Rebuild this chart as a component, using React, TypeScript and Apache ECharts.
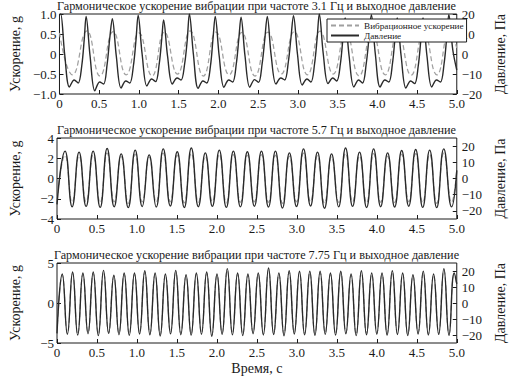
import React, { useEffect, useRef } from "react";
import * as echarts from "echarts";

const SERIF = "Liberation Serif";

const panelTitles = [
  "Гармоническое ускорение вибрации при частоте 3.1 Гц и выходное давление",
  "Гармоническое ускорение вибрации при частоте 5.7 Гц и выходное давление",
  "Гармоническое ускорение вибрации при частоте 7.75 Гц и выходное давление",
];
const accelName = "Вибрационное ускорение";
const pressureName = "Давление";
const leftAxisName = "Ускорение, g";
const rightAxisName = "Давление, Па";
const xAxisName = "Время, с";

const xTicks = [0, 0.5, 1, 1.5, 2, 2.5, 3, 3.5, 4, 4.5, 5];
const leftTicks1 = [-1, -0.5, 0, 0.5, 1];
const leftTicks2 = [-4, -2, 0, 2, 4];
const leftTicks3 = [-5, 0, 5];
const rightTicks = [-20, -10, 0, 10, 20];

// Panel 1 (3.1 Hz)
const accel1T = [0, 0.165, 0.345, 0.51, 0.675, 0.84, 1.0, 1.165, 1.32, 1.485, 1.645, 1.81, 1.97, 2.135, 2.295, 2.46, 2.625, 2.79, 2.955, 3.12, 3.28, 3.445, 3.605, 3.77, 3.935, 4.1, 4.26, 4.425, 4.585, 4.75, 4.91, 5.0];
const accel1V = [0.53, -0.52, 0.58, -0.55, 0.56, -0.52, 0.53, -0.55, 0.55, -0.5, 0.58, -0.55, 0.55, -0.52, 0.54, -0.55, 0.55, -0.5, 0.56, -0.52, 0.57, -0.5, 0.55, -0.55, 0.56, -0.52, 0.55, -0.53, 0.55, -0.52, 0.55, 0.15];
const pressure1T = [
  0,
  0.015, 0.065, 0.125, 0.185, 0.235, 0.28, 0.313,
  0.335, 0.385, 0.445, 0.505, 0.555, 0.6, 0.633,
  0.665, 0.715, 0.775, 0.835, 0.885, 0.93, 0.963,
  0.99, 1.04, 1.1, 1.16, 1.21, 1.255, 1.288,
  1.31, 1.36, 1.42, 1.48, 1.53, 1.575, 1.608,
  1.635, 1.685, 1.745, 1.805, 1.855, 1.9, 1.933,
  1.96, 2.01, 2.07, 2.13, 2.18, 2.225, 2.258,
  2.285, 2.335, 2.395, 2.455, 2.505, 2.55, 2.583,
  2.615, 2.665, 2.725, 2.785, 2.835, 2.88, 2.913,
  2.945, 2.995, 3.055, 3.115, 3.165, 3.21, 3.243,
  3.27, 3.32, 3.38, 3.44, 3.49, 3.535, 3.568,
  3.595, 3.645, 3.705, 3.765, 3.815, 3.86, 3.893,
  3.925, 3.975, 4.035, 4.095, 4.145, 4.19, 4.223,
  4.25, 4.3, 4.36, 4.42, 4.47, 4.515, 4.548,
  4.575, 4.625, 4.685, 4.745, 4.795, 4.84, 4.873,
  4.9, 4.95, 5.0,
];
const pressure1V = [
  19.5,
  20, 0, -16.5, -13, -14.5, -6, 8,
  18.8, -1, -18.4, -14, -15, -5, 8,
  17.6, -1, -17, -13.5, -14.5, -6, 7,
  19.4, 0, -16, -12.5, -13.8, -5, 8,
  17, -1, -15, -12, -13, -5, 7,
  20, 0, -17.2, -13.5, -14.5, -6, 8,
  18.8, -1, -16.6, -13, -14, -5, 8,
  18.4, -1, -16.6, -12.8, -14.2, -5, 7,
  18.8, -1, -15, -12, -13, -4, 8,
  19.2, 0, -15.5, -12.5, -14, -5, 8,
  20, 0, -14.8, -12, -13.5, -5, 8,
  18, -1, -16.5, -13, -14.5, -5, 7,
  19.7, 0, -16.5, -13, -14, -5, 8,
  18, -1, -17, -13.5, -14.8, -6, 7,
  18, -1, -16.5, -13, -14, -5, 8,
  19.7, 2, -8,
];

// Panel 2 (5.7 Hz)
const times2 = [0, 0.101, 0.189, 0.276, 0.364, 0.452, 0.54, 0.627, 0.715, 0.803, 0.891, 0.978, 1.066, 1.153, 1.241, 1.329, 1.417, 1.504, 1.592, 1.68, 1.768, 1.855, 1.943, 2.03, 2.118, 2.206, 2.294, 2.381, 2.469, 2.557, 2.645, 2.732, 2.82, 2.907, 2.995, 3.083, 3.171, 3.258, 3.346, 3.434, 3.522, 3.609, 3.697, 3.784, 3.872, 3.96, 4.048, 4.135, 4.223, 4.311, 4.399, 4.486, 4.574, 4.661, 4.749, 4.837, 4.935, 5.0];
const pressure2V = [-16, 16.9, -17.5, 16.3, -17.2, 16.9, -17.8, 18.5, -17.4, 15.2, -18.0, 17.5, -17.3, 14.6, -17.6, 18.3, -17.0, 16.5, -17.9, 18.8, -17.4, 15.8, -17.2, 17.5, -17.8, 16.9, -17.5, 16.5, -17.1, 16.9, -17.6, 16.9, -18.2, 15.8, -17.3, 18.3, -17.0, 16.3, -18.4, 15.2, -17.5, 18.8, -17.2, 16.3, -17.9, 18.3, -17.4, 15.8, -17.6, 17.3, -17.1, 17.9, -17.8, 17.5, -18.0, 18.3, -17.5, 5];
const accel2V = [-2.2, 2.3, -2.35, 2.25, -2.3, 2.35, -2.4, 2.5, -2.3, 2.15, -2.45, 2.4, -2.3, 2.1, -2.35, 2.5, -2.3, 2.3, -2.4, 2.5, -2.35, 2.2, -2.3, 2.4, -2.4, 2.35, -2.35, 2.3, -2.3, 2.35, -2.35, 2.3, -2.45, 2.2, -2.3, 2.5, -2.3, 2.25, -2.45, 2.15, -2.35, 2.5, -2.3, 2.25, -2.4, 2.45, -2.35, 2.2, -2.35, 2.4, -2.3, 2.45, -2.4, 2.4, -2.45, 2.5, -2.35, 0.8];

// Panel 3 (7.75 Hz)
const times3 = [0, 0.066, 0.130, 0.195, 0.259, 0.324, 0.388, 0.453, 0.517, 0.582, 0.646, 0.711, 0.775, 0.840, 0.904, 0.969, 1.033, 1.098, 1.162, 1.227, 1.291, 1.356, 1.420, 1.485, 1.549, 1.614, 1.678, 1.743, 1.807, 1.872, 1.936, 2.001, 2.065, 2.130, 2.194, 2.259, 2.323, 2.388, 2.452, 2.517, 2.581, 2.646, 2.710, 2.775, 2.839, 2.904, 2.968, 3.033, 3.097, 3.162, 3.226, 3.291, 3.355, 3.420, 3.484, 3.549, 3.613, 3.678, 3.742, 3.807, 3.871, 3.936, 4.000, 4.065, 4.129, 4.194, 4.258, 4.323, 4.387, 4.452, 4.516, 4.581, 4.645, 4.710, 4.774, 4.839, 4.903, 4.968, 5.0];
const pressure3V = [-19, 18.1, -19.5, 19.4, -20.0, 18.75, -19.2, 19.4, -20.4, 20.4, -19.0, 17.3, -19.8, 18.75, -20.2, 18.75, -19.4, 20.2, -19.9, 18.75, -20.6, 18.1, -19.3, 20.4, -19.8, 17.7, -20.1, 18.75, -19.5, 19.4, -20.8, 18.1, -19.6, 21.5, -19.9, 18.75, -20.3, 18.1, -19.2, 18.75, -20.0, 21.9, -19.7, 18.75, -20.5, 20.2, -19.4, 19.8, -19.9, 19.8, -20.2, 19.8, -19.6, 18.75, -20.0, 19.8, -19.3, 18.1, -20.4, 20.2, -19.8, 18.75, -19.5, 18.75, -20.1, 20.2, -19.7, 18.75, -20.3, 17.7, -19.4, 19.8, -20.0, 18.1, -19.6, 21.5, -20.2, 18.75, 12];
const accel3V = [-3.7, 3.5, -3.8, 3.7, -3.9, 3.6, -3.7, 3.7, -3.9, 3.9, -3.7, 3.35, -3.8, 3.6, -3.9, 3.6, -3.75, 3.85, -3.8, 3.6, -3.95, 3.5, -3.7, 3.9, -3.8, 3.4, -3.85, 3.6, -3.75, 3.7, -4.0, 3.5, -3.75, 4.1, -3.8, 3.6, -3.9, 3.5, -3.7, 3.6, -3.85, 4.15, -3.8, 3.6, -3.9, 3.85, -3.7, 3.8, -3.8, 3.8, -3.85, 3.8, -3.75, 3.6, -3.85, 3.8, -3.7, 3.5, -3.9, 3.85, -3.8, 3.6, -3.75, 3.6, -3.85, 3.85, -3.8, 3.6, -3.9, 3.4, -3.7, 3.8, -3.85, 3.5, -3.75, 4.1, -3.85, 3.6, 2.3];

function zip(t: number[], v: number[]) {
  const n = Math.min(t.length, v.length);
  const out: number[][] = [];
  for (let i = 0; i < n; i++) out.push([t[i], v[i]]);
  return out;
}

const minus = (s: string) => s.replace("-", "\u2212");
const fmt1 = (v: number) => (Math.abs(v) < 1e-9 ? "0" : minus(v.toFixed(1)));
const fmt0 = (v: number) => (Math.abs(v) < 1e-9 ? "0" : minus(String(Math.round(v))));

const BLACK = "#1a1a1a";
const GRIDS = [
  { top: 14, height: 80 },
  { top: 138, height: 81 },
  { top: 263, height: 80 },
];

export default function App() {
  const ref = useRef<HTMLDivElement>(null);
  useEffect(() => {
    if (!ref.current) return;
    const chart = echarts.init(ref.current, undefined, { renderer: "svg" });

    const tickStyle = { show: true, inside: true, length: 4, lineStyle: { color: BLACK, width: 1 } };
    const labelBase = { fontFamily: SERIF, fontSize: 13, color: BLACK };
    const nameStyle = { fontFamily: SERIF, fontSize: 14, color: BLACK };

    const xAxes = GRIDS.map((_, i) => ({
      type: "value",
      gridIndex: i,
      position: "bottom",
      min: 0,
      max: 5,
      axisLine: { show: false, onZero: false },
      axisTick: { ...tickStyle, customValues: xTicks },
      axisLabel: { ...labelBase, margin: 3, customValues: xTicks, formatter: (v: number) => fmt1(v) },
      splitLine: { show: false },
      ...(i === 2
        ? { name: xAxisName, nameLocation: "middle", nameGap: 18, nameTextStyle: nameStyle }
        : {}),
    }));

    const leftDefs = [
      { min: -1, max: 1, ticks: leftTicks1, f: fmt1 },
      { min: -4, max: 4, ticks: leftTicks2, f: fmt0 },
      { min: -5, max: 5, ticks: leftTicks3, f: fmt0 },
    ];
    const rightDefs = [
      { min: -20, max: 20 },
      { min: -25, max: 25 },
      { min: -25, max: 25 },
    ];
    const yAxes: any[] = [];
    GRIDS.forEach((_, i) => {
      yAxes.push({
        type: "value",
        gridIndex: i,
        position: "left",
        min: leftDefs[i].min,
        max: leftDefs[i].max,
        axisLine: { show: false, onZero: false },
        axisTick: { ...tickStyle, customValues: leftDefs[i].ticks },
        axisLabel: { ...labelBase, margin: 3, customValues: leftDefs[i].ticks, formatter: (v: number) => leftDefs[i].f(v) },
        splitLine: { show: false },
        name: leftAxisName,
        nameLocation: "middle",
        nameRotate: 90,
        nameGap: 35,
        nameTextStyle: nameStyle,
      });
      yAxes.push({
        type: "value",
        gridIndex: i,
        position: "right",
        min: rightDefs[i].min,
        max: rightDefs[i].max,
        axisLine: { show: false, onZero: false },
        axisTick: { ...tickStyle, customValues: rightTicks },
        axisLabel: { ...labelBase, margin: 5, customValues: rightTicks, formatter: (v: number) => fmt0(v) },
        splitLine: { show: false },
        name: rightAxisName,
        nameLocation: "middle",
        nameRotate: 90,
        nameGap: 34,
        nameTextStyle: nameStyle,
      });
    });

    const accelData = [zip(accel1T, accel1V), zip(times2, accel2V), zip(times3, accel3V)];
    const pressureData = [zip(pressure1T, pressure1V), zip(times2, pressure2V), zip(times3, pressure3V)];

    const series: any[] = [];
    GRIDS.forEach((_, i) => {
      series.push({
        type: "line",
        name: accelName,
        xAxisIndex: i,
        yAxisIndex: 2 * i,
        data: accelData[i],
        symbol: "none",
        smooth: 0.5,
        lineStyle: { color: "#a0a0a0", width: 1.25, type: [5, 3] },
        itemStyle: { color: "#a0a0a0" },
        z: 2,
      });
      series.push({
        type: "line",
        name: pressureName,
        xAxisIndex: i,
        yAxisIndex: 2 * i + 1,
        data: pressureData[i],
        symbol: "none",
        smooth: i === 0 ? 0.35 : 0.5,
        lineStyle: { color: "#2a2a2a", width: 1.4 },
        itemStyle: { color: "#2a2a2a" },
        z: 3,
      });
    });

    chart.setOption({
      animation: false,
      backgroundColor: "#fff",
      title: GRIDS.map((g, i) => ({
        text: panelTitles[i],
        left: 256.5,
        textAlign: "center",
        top: g.top - 14.5,
        padding: 0,
        textStyle: { fontFamily: SERIF, fontSize: 12.2, fontWeight: "normal", color: BLACK },
      })),
      legend: {
        data: [accelName, pressureName],
        orient: "vertical",
        left: 327,
        top: 19,
        padding: [2, 3, 2, 3],
        itemGap: 1,
        itemWidth: 28,
        itemHeight: 10,
        itemStyle: { opacity: 0 },
        borderColor: BLACK,
        borderWidth: 1,
        borderRadius: 0,
        backgroundColor: "#fff",
        textStyle: { fontFamily: SERIF, fontSize: 9.2, color: BLACK },
        z: 10,
      },
      grid: GRIDS.map((g) => ({
        left: 42,
        right: 44,
        top: g.top,
        height: g.height,
        show: true,
        borderColor: BLACK,
        borderWidth: 1,
        backgroundColor: "transparent",
      })),
      xAxis: xAxes,
      yAxis: yAxes,
      series,
    });
    return () => chart.dispose();
  }, []);

  return (
    <div
      ref={ref}
      style={{ position: "fixed", left: 0, top: 0, width: 515, height: 378, background: "#fff" }}
    />
  );
}
